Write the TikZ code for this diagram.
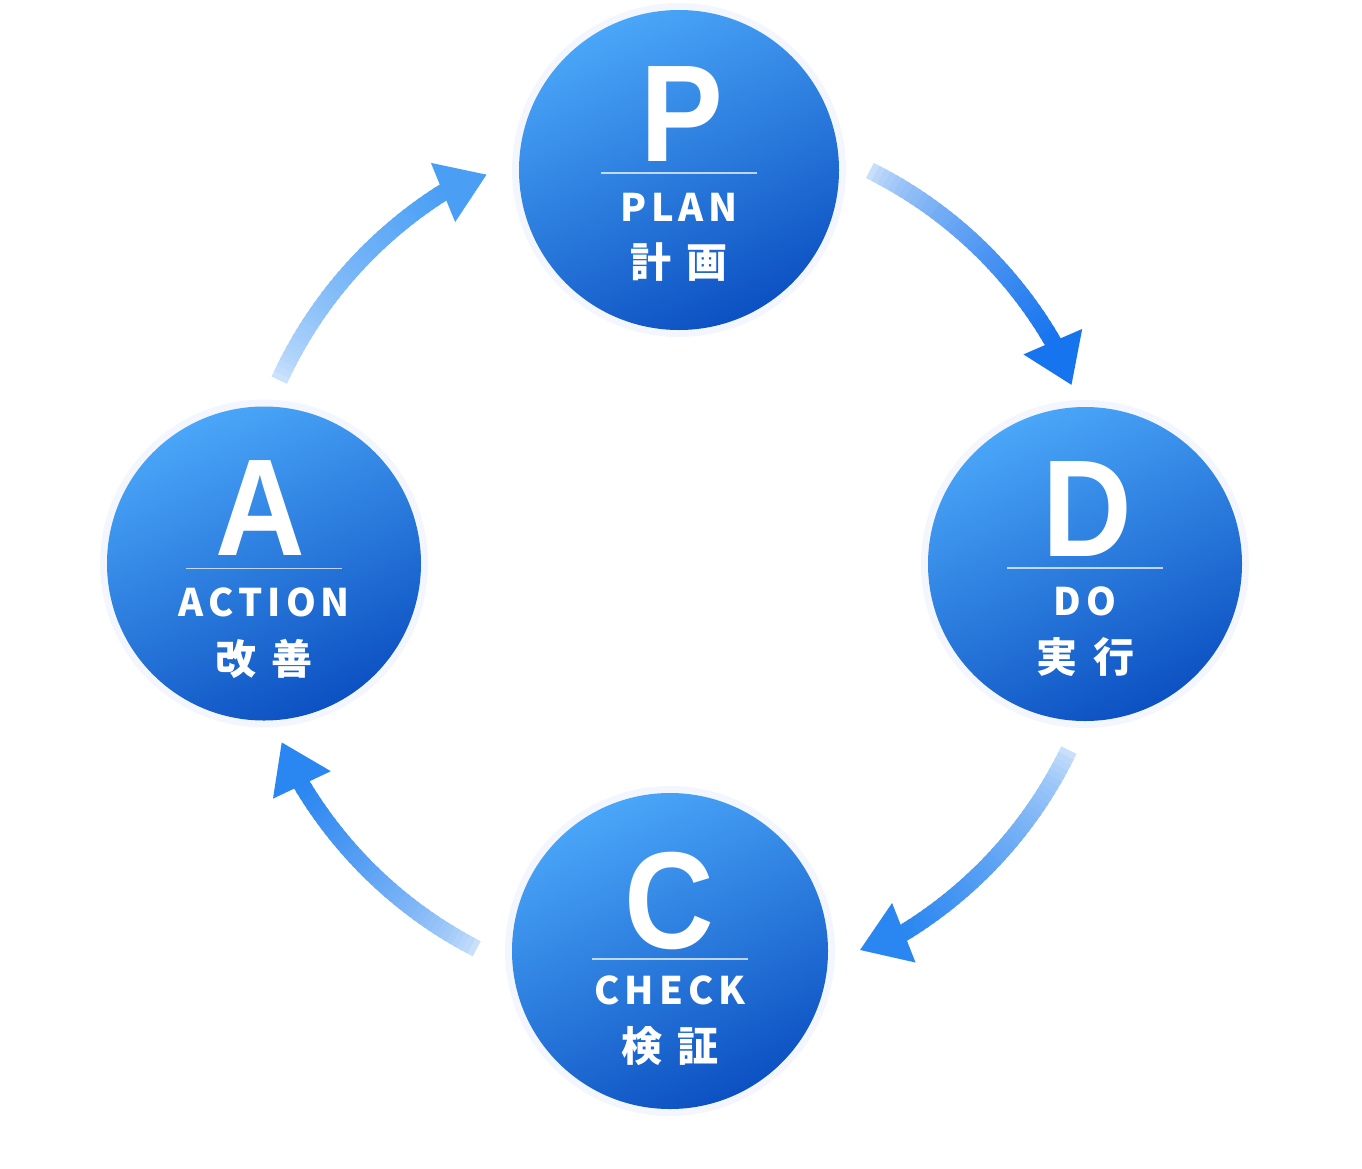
\documentclass[tikz,border=0pt]{standalone}
\usepackage{fontspec}
\usepackage{graphicx}
\usetikzlibrary{calc}
\newfontfamily\bigfont{Liberation Sans}
\newfontfamily\jpfont{Noto Sans CJK JP}
\definecolor{cTop}{HTML}{4AA6F8}
\definecolor{cMid}{HTML}{2283EC}
\definecolor{cBot}{HTML}{0C51C2}
\definecolor{haloC}{HTML}{F3F7FD}
\definecolor{tailC}{HTML}{D5E7FC}
\definecolor{headPD}{HTML}{1674EE}
\definecolor{headDC}{HTML}{2A86F0}
\definecolor{headCA}{HTML}{2A86F0}
\definecolor{headAP}{HTML}{4A9FF5}
% #1 start angle, #2 end angle of shaft, #3 head tilt, #4 tail colour, #5 head colour, #6 radius
\newcommand\cycarrow[6]{%
  \foreach \k in {0,...,39}{%
    \pgfmathsetmacro\ta{#1+(#2-#1)*\k/40}%
    \pgfmathsetmacro\tb{#1+(#2-#1)*(\k+1.5)/40}%
    \pgfmathtruncatemacro\pc{min(100,round(100*((\k+0.5)/40)^0.6))}%
    \draw[shaft, draw=#5!\pc!#4] ($(cyc)+({#6*cos(\ta)},{#6*sin(\ta)})$) -- ($(cyc)+({#6*cos(\tb)},{#6*sin(\tb)})$);
  }%
  \pgfmathsetmacro\hd{#2+90+#3}%
  \coordinate (E) at ($(cyc)+({#6*cos(#2)},{#6*sin(#2)})$);
  \fill[#5] ($(E)+({47*cos(\hd)},{47*sin(\hd)})$) -- ($(E)+({32*sin(\hd)},{-32*cos(\hd)})$) -- ($(E)+({-32*sin(\hd)},{32*cos(\hd)})$) -- cycle;
}
\begin{document}
\begin{tikzpicture}[x=1pt,y=-1pt,
  disc/.style={circle, minimum size=#1, inner sep=0pt, top color=cTop, middle color=cMid, bottom color=cBot, shading angle=25},
  halo/.style={circle, minimum size=#1, inner sep=0pt, fill=haloC},
  bigletter/.style={text=white, font=\bigfont\bfseries\fontsize{138}{138}\selectfont, anchor=base, inner sep=0pt},
  word/.style={text=white, font=\jpfont\bfseries\fontsize{38}{38}\selectfont, anchor=base, inner sep=0pt},
  kanji/.style={text=white, font=\jpfont\bfseries\fontsize{41}{41}\selectfont, inner sep=0pt},
  sepline/.style={draw=white, opacity=0.7, line width=1.3pt},
  shaft/.style={line width=17pt}
]
\fill[white] (0,0) rectangle (1362,1168);
\useasboundingbox (0,0) rectangle (1362,1168);
\coordinate (cyc) at (676,561);

% halos
\node[halo=334pt] (Ph) at (679,170) {};
\node[halo=328pt] (Dh) at (1085,564) {};
\node[halo=330pt] (Ch) at (670,951) {};
\node[halo=328pt] (Ah) at (264,563.5) {};

% discs
\node[disc=320pt] (P) at (679,170) {};
\node[disc=314pt] (D) at (1085,564) {};
\node[disc=316pt] (C) at (670,951) {};
\node[disc=314pt] (A) at (264,563.5) {};

% P
\node[bigletter] (Pl) at ($(P)+(3,-9)$) {\scalebox{0.9}[1]{P}};
\draw[sepline] ($(P)+(-78,3)$) -- ($(P)+(78,3)$);
\node[word] (Pw) at ($(P)+(0,51)$) {P\kern5pt L\kern5pt A\kern5pt N};
\node[kanji] (Pk) at ($(P)+(0,92)$) {計\kern16pt 画};

% D
\node[bigletter] (Dl) at ($(D)+(2,-8)$) {\scalebox{0.9}[1]{D}};
\draw[sepline] ($(D)+(-78,4)$) -- ($(D)+(78,4)$);
\node[word] (Dw) at ($(D)+(0,51)$) {D\kern5pt O};
\node[kanji] (Dk) at ($(D)+(0,92.5)$) {実\kern16pt 行};

% C
\node[bigletter] (Cl) at ($(C)+(-1,-3)$) {\scalebox{0.9}[1]{C}};
\draw[sepline] ($(C)+(-78,8)$) -- ($(C)+(78,8)$);
\node[word] (Cw) at ($(C)+(0,53)$) {C\kern5pt H\kern5pt E\kern5pt C\kern5pt K};
\node[kanji] (Ck) at ($(C)+(0,95)$) {検\kern16pt 証};

% A
\node[bigletter] (Al) at ($(A)+(-4,-8)$) {\scalebox{0.9}[1]{A}};
\draw[sepline] ($(A)+(-78,5)$) -- ($(A)+(78,5)$);
\node[word] (Aw) at ($(A)+(0,53)$) {A\kern5pt C\kern5pt T\kern5pt I\kern5pt O\kern5pt N};
\node[kanji] (Ak) at ($(A)+(0,95)$) {改\kern16pt 善};

% cycle arrows
\cycarrow{-63.6}{-30.2}{6.8}{tailC}{headPD}{436}
\cycarrow{25.7}{58.5}{10}{tailC}{headDC}{436}
\cycarrow{117.2}{149.1}{5.5}{tailC}{headCA}{436}
\cycarrow{204.5}{237.7}{10}{tailC}{headAP}{436}
\end{tikzpicture}
\end{document}
